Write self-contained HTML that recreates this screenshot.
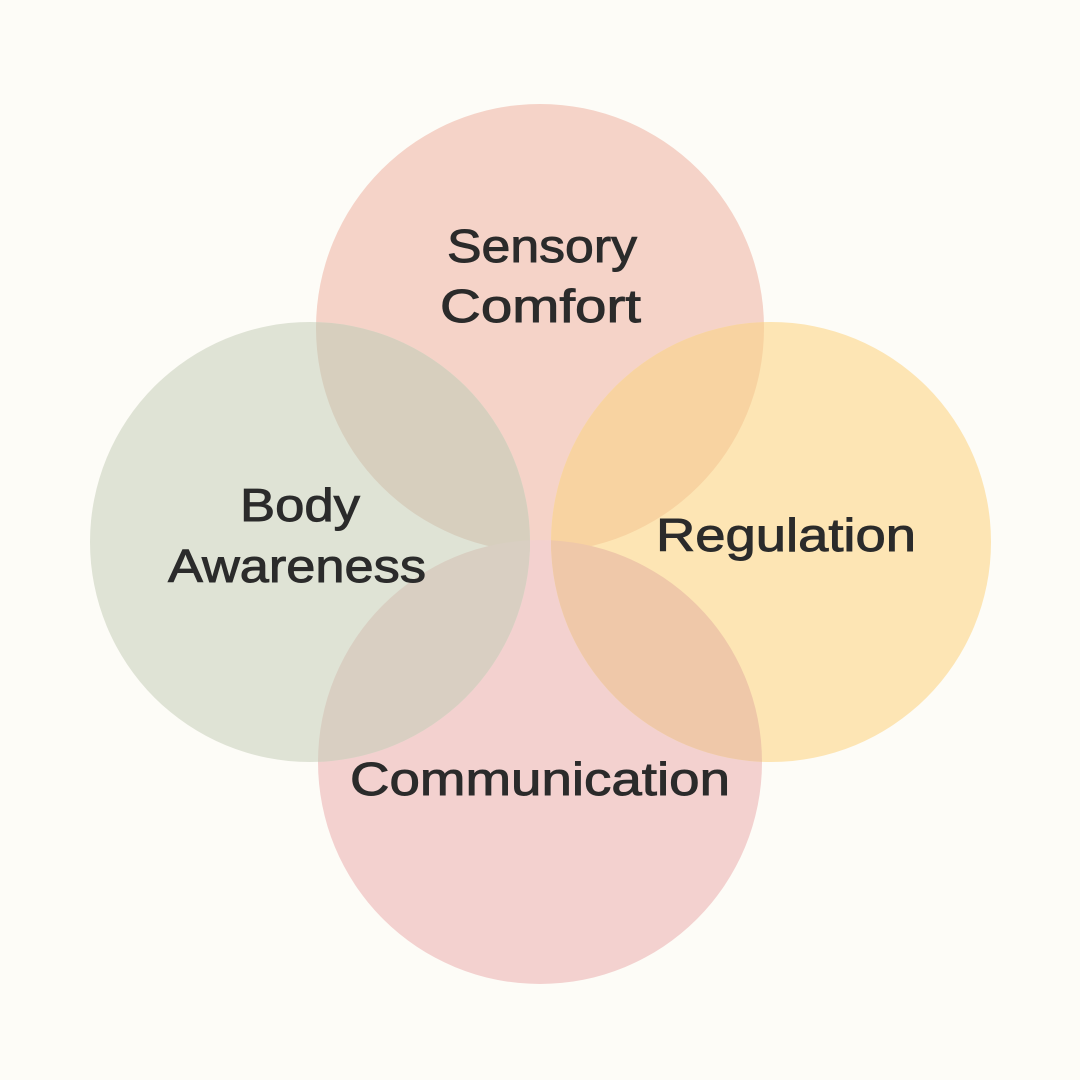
<!DOCTYPE html>
<html><head><meta charset="utf-8"><style>
html,body{margin:0;padding:0;background:#fdfcf7;}
svg{display:block}
text{font-family:"Liberation Sans","DejaVu Sans",sans-serif;font-size:46px;fill:#2b2b2b;stroke:#2b2b2b;stroke-width:0.9px;}
</style></head><body>
<svg width="1080" height="1080" viewBox="0 0 1080 1080">
<defs>
<clipPath id="cT"><circle cx="540" cy="328" r="224"/></clipPath>
<clipPath id="cB"><circle cx="540" cy="762" r="222"/></clipPath>
</defs>
<rect width="1080" height="1080" fill="#fdfcf7"/>
<circle cx="540" cy="328" r="224" fill="#f5d3c8"/>
<circle cx="540" cy="762" r="222" fill="#f3d1cf"/>
<circle cx="310" cy="542" r="220" fill="#dfe3d5"/>
<circle cx="771" cy="542" r="220" fill="#fde5b4"/>
<g clip-path="url(#cT)">
<circle cx="310" cy="542" r="220" fill="#d7cfbe"/>
<circle cx="771" cy="542" r="220" fill="#f8d3a1"/>
</g>
<g clip-path="url(#cB)">
<circle cx="310" cy="542" r="220" fill="#d9cfc2"/>
<circle cx="771" cy="542" r="220" fill="#efc8a9"/>
</g>
<text x="447" y="262" textLength="190" lengthAdjust="spacingAndGlyphs">Sensory</text>
<text x="440" y="322" textLength="201" lengthAdjust="spacingAndGlyphs">Comfort</text>
<text x="240" y="521" textLength="120" lengthAdjust="spacingAndGlyphs">Body</text>
<text x="168" y="582" textLength="258" lengthAdjust="spacingAndGlyphs">Awareness</text>
<text x="656" y="551" textLength="260" lengthAdjust="spacingAndGlyphs">Regulation</text>
<text x="350" y="795" textLength="380" lengthAdjust="spacingAndGlyphs">Communication</text>
</svg>
</body></html>
